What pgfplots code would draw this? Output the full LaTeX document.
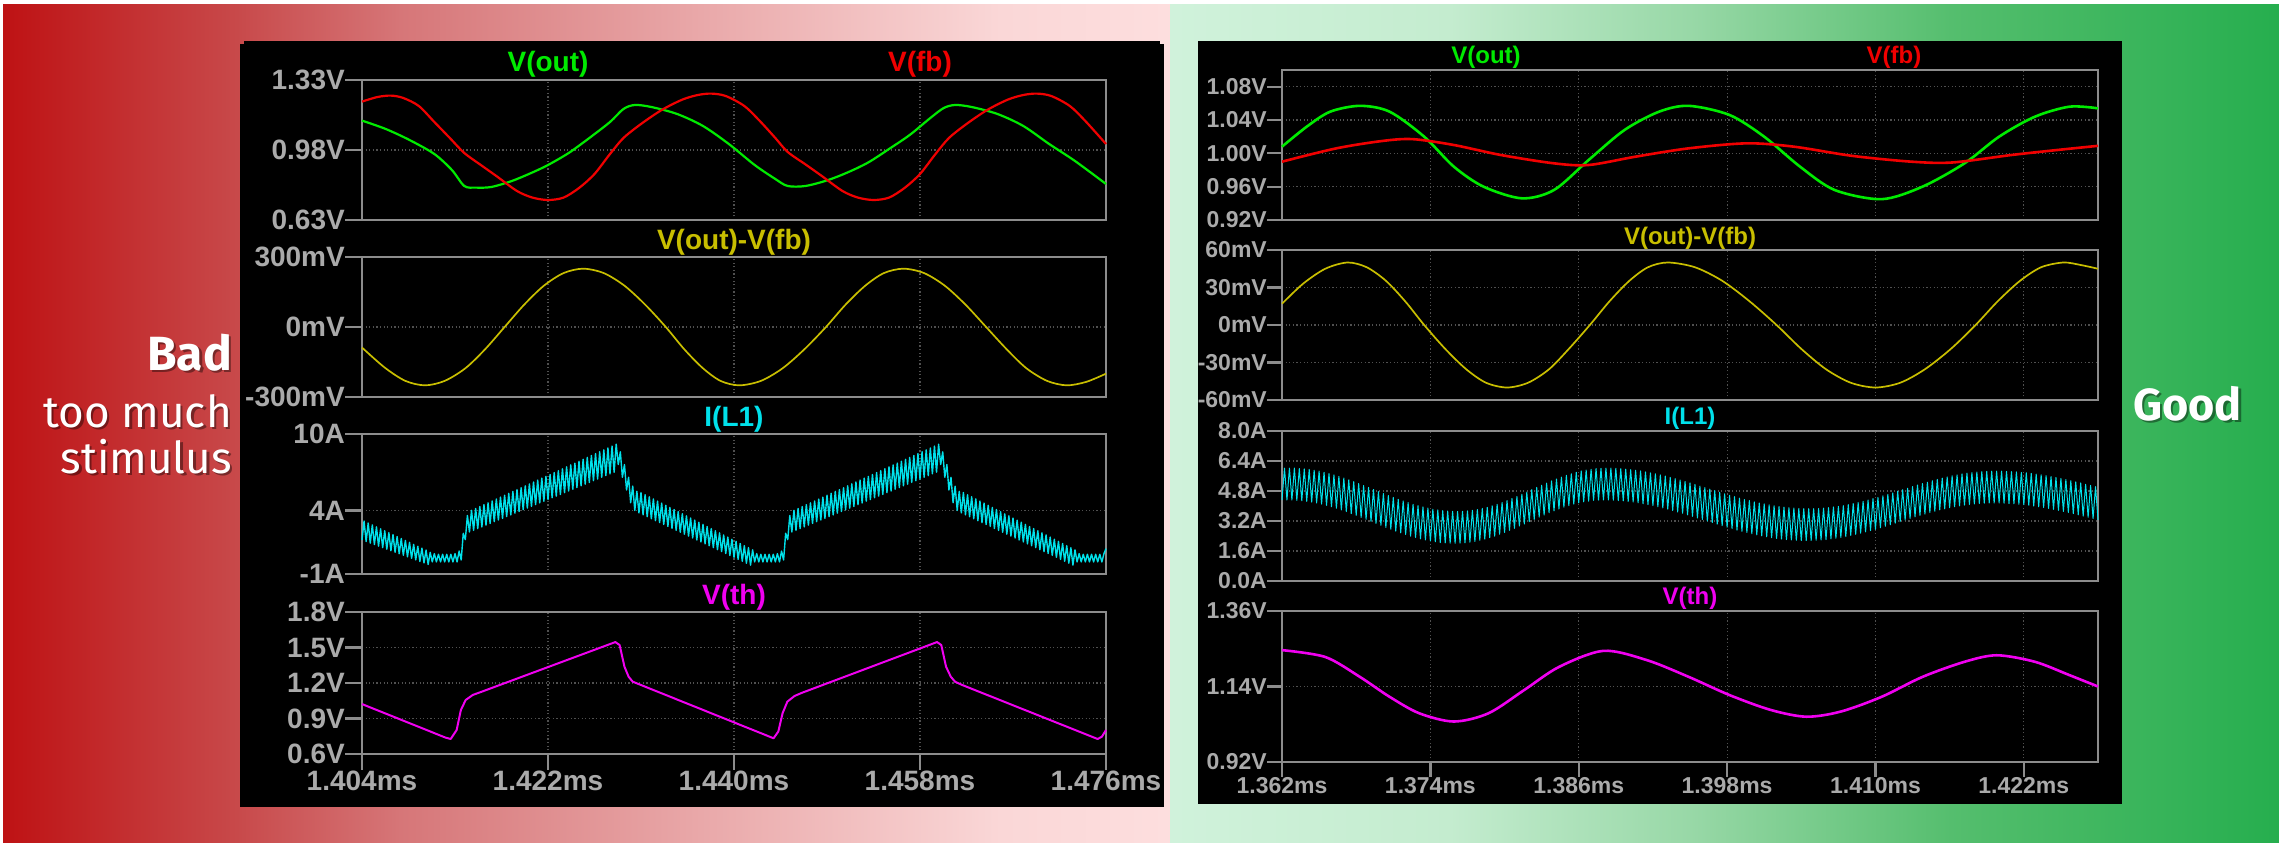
\documentclass[border=0pt]{standalone}
\usepackage{fontspec}
\setmainfont{Liberation Sans}
\newfontfamily\notefont{Fira Sans}
\usepackage{pgfplots}
\pgfplotsset{compat=1.18}

% trace and frame colours
\definecolor{ticktext}{RGB}{170,170,170}
\definecolor{framegray}{RGB}{140,140,140}
\definecolor{gridgray}{RGB}{80,80,80}
\definecolor{vout}{RGB}{0,235,0}
\definecolor{vfb}{RGB}{240,0,0}
\definecolor{vdiff}{RGB}{200,190,0}
\definecolor{il}{RGB}{0,225,235}
\definecolor{vth}{RGB}{240,0,240}
% background gradient stops
\definecolor{ra}{RGB}{190,18,20}
\definecolor{rb}{RGB}{200,74,75}
\definecolor{rc}{RGB}{214,118,120}
\definecolor{rd}{RGB}{233,168,169}
\definecolor{re}{RGB}{250,215,215}
\definecolor{rf}{RGB}{253,222,222}
\definecolor{ga}{RGB}{208,242,219}
\definecolor{gb}{RGB}{196,236,207}
\definecolor{gc}{RGB}{150,215,165}
\definecolor{gd}{RGB}{85,190,110}
\definecolor{ge}{RGB}{38,174,78}

\newcommand\tickL{\fontsize{28}{28}\selectfont\bfseries}
\newcommand\tickR{\fontsize{23}{23}\selectfont\bfseries}
\newcommand\titleL{\fontsize{28}{28}\selectfont\bfseries}
\newcommand\titleR{\fontsize{24}{24}\selectfont\bfseries}

% outward tick marks, drawn as thin bars
\newcommand\ytk[3]{\fill[framegray] (#1pt,-#3pt+1.1pt) rectangle (#2pt,-#3pt-1.1pt);}
\newcommand\xtk[3]{\fill[framegray] (#1pt-1.1pt,-#2pt) rectangle (#1pt+1.1pt,-#3pt);}

\pgfplotsset{
  spice/.style={
    scale only axis,
    axis line style={draw=framegray, line width=2pt},
    tick style={draw=none},
    tick align=outside,
    ytick pos=left,
    xtick pos=bottom,
    grid=major,
    major grid style={draw=gridgray, line width=1.2pt, dash pattern=on 1.2pt off 2.4pt},
    clip=false,
    yticklabel style={anchor=east, inner sep=0pt, text=ticktext},
    xticklabel style={anchor=north, inner sep=0pt, text=ticktext},
    every axis plot/.append style={line join=round},
  },
  bad/.style={spice, width=744pt, xmin=1.404, xmax=1.476,
    xtick={1.404,1.422,1.440,1.458,1.476},
    major tick length=17pt, ticklabel style={font=\tickL}},
  good/.style={spice, width=816pt, xmin=1.362, xmax=1.428,
    xtick={1.362,1.374,1.386,1.398,1.410,1.422},
    major tick length=15pt, ticklabel style={font=\tickR}},
  upper/.style={xticklabels={}},
}

\begin{document}
\begin{tikzpicture}
\useasboundingbox (0,0) rectangle (2279pt,-843pt);

% backdrop: red half and green half
\fill[white] (0,0) rectangle (2279pt,-843pt);
\shade[left color=ra, right color=rb] (3pt,-5pt) rectangle (240.5pt,-843pt);
\shade[left color=rb, right color=rc] (240pt,-5pt) rectangle (400.5pt,-843pt);
\shade[left color=rc, right color=rd] (400pt,-5pt) rectangle (700.5pt,-843pt);
\shade[left color=rd, right color=re] (700pt,-5pt) rectangle (1000.5pt,-843pt);
\shade[left color=re, right color=rf] (1000pt,-5pt) rectangle (1170pt,-843pt);
\shade[left color=ga, right color=gb] (1170pt,-5pt) rectangle (1450.5pt,-843pt);
\shade[left color=gb, right color=gc] (1450pt,-5pt) rectangle (1700.5pt,-843pt);
\shade[left color=gc, right color=gd] (1700pt,-5pt) rectangle (1950.5pt,-843pt);
\shade[left color=gd, right color=ge] (1950pt,-5pt) rectangle (2279pt,-843pt);

% scope windows
\fill[black] (244pt,-41pt) rectangle (1160pt,-807pt);
\fill[black] (240pt,-44pt) rectangle (1164pt,-807pt);
\fill[black] (1198pt,-41pt) rectangle (2122pt,-804pt);

% tick marks of both windows
\ytk{345}{362}{80}\ytk{345}{362}{150}\ytk{345}{362}{220}
\ytk{345}{362}{257}\ytk{345}{362}{327}\ytk{345}{362}{397}
\ytk{345}{362}{434}\ytk{345}{362}{510.4}\ytk{345}{362}{574}
\ytk{345}{362}{612}\ytk{345}{362}{647.5}\ytk{345}{362}{683}\ytk{345}{362}{718.5}\ytk{345}{362}{754}
\xtk{362}{754}{770}\xtk{548}{754}{770}\xtk{734}{754}{770}\xtk{920}{754}{770}\xtk{1106}{754}{770}
\ytk{1267}{1282}{86.7}\ytk{1267}{1282}{120}\ytk{1267}{1282}{153.3}\ytk{1267}{1282}{186.7}\ytk{1267}{1282}{220}
\ytk{1267}{1282}{250}\ytk{1267}{1282}{287.5}\ytk{1267}{1282}{325}\ytk{1267}{1282}{362.5}\ytk{1267}{1282}{400}
\ytk{1267}{1282}{431}\ytk{1267}{1282}{461}\ytk{1267}{1282}{491}\ytk{1267}{1282}{521}\ytk{1267}{1282}{551}\ytk{1267}{1282}{581}
\ytk{1267}{1282}{611}\ytk{1267}{1282}{686.5}\ytk{1267}{1282}{762}
\xtk{1282}{762}{777}\xtk{1430.4}{762}{777}\xtk{1578.7}{762}{777}\xtk{1727.1}{762}{777}\xtk{1875.5}{762}{777}\xtk{2023.8}{762}{777}

% side captions
\begin{scope}[every node/.style={inner sep=0pt}]
\node[anchor=base east, font=\notefont\bfseries\fontsize{48}{48}\selectfont, text=black, opacity=0.4] at (234.5pt,-372.5pt) {Bad};
\node[anchor=base east, font=\notefont\bfseries\fontsize{48}{48}\selectfont, text=white] at (232pt,-370pt) {Bad};
\node[anchor=base east, font=\notefont\fontsize{44}{44}\selectfont, text=black, opacity=0.4] at (234.5pt,-429.5pt) {too much};
\node[anchor=base east, font=\notefont\fontsize{44}{44}\selectfont, text=white] at (232pt,-427pt) {too much};
\node[anchor=base east, font=\notefont\fontsize{44}{44}\selectfont, text=black, opacity=0.4] at (234.5pt,-475.5pt) {stimulus};
\node[anchor=base east, font=\notefont\fontsize{44}{44}\selectfont, text=white] at (232pt,-473pt) {stimulus};
\node[anchor=base west, font=\notefont\bfseries\fontsize{45}{45}\selectfont, text=black, opacity=0.4] at (2135.5pt,-422.5pt) {Good};
\node[anchor=base west, font=\notefont\bfseries\fontsize{45}{45}\selectfont, text=white] at (2133pt,-420pt) {Good};
\end{scope}

% ---------------- left window ----------------
\begin{axis}[bad, upper, at={(362pt,-220pt)}, anchor=south west, height=140pt,
  ymin=0.63, ymax=1.33, ytick={0.63,0.98,1.33}, yticklabels={0.63V,0.98V,1.33V}]
\addplot[vout, line width=2.2pt, smooth] coordinates {
(1.4040,1.127)(1.4063,1.085)(1.4086,1.030)(1.4110,0.960)(1.4127,0.880)(1.4139,0.800)
(1.4150,0.792)(1.4165,0.795)(1.4185,0.825)(1.4205,0.868)(1.4220,0.905)(1.4240,0.965)
(1.4260,1.040)(1.4280,1.120)(1.4293,1.185)(1.4304,1.205)(1.4320,1.195)(1.4345,1.160)
(1.4370,1.100)(1.4395,1.010)(1.4420,0.905)(1.4440,0.835)(1.4452,0.800)(1.4469,0.800)
(1.4490,0.828)(1.4510,0.868)(1.4530,0.918)(1.4550,0.985)(1.4570,1.055)(1.4590,1.140)
(1.4603,1.190)(1.4614,1.205)(1.4630,1.195)(1.4655,1.160)(1.4680,1.100)(1.4705,1.010)
(1.4730,0.925)(1.4760,0.810)};
\addplot[vfb, line width=2.2pt, smooth] coordinates {
(1.4040,1.222)(1.4055,1.245)(1.4068,1.252)(1.4080,1.240)(1.4095,1.200)(1.4110,1.120)
(1.4125,1.040)(1.4139,0.965)(1.4155,0.905)(1.4170,0.850)(1.4190,0.775)(1.4205,0.742)
(1.4220,0.730)(1.4235,0.742)(1.4250,0.790)(1.4265,0.860)(1.4280,0.960)(1.4293,1.040)
(1.4310,1.110)(1.4330,1.180)(1.4350,1.232)(1.4365,1.255)(1.4378,1.262)(1.4392,1.250)
(1.4410,1.200)(1.4425,1.125)(1.4440,1.040)(1.4452,0.970)(1.4470,0.905)(1.4485,0.850)
(1.4505,0.775)(1.4520,0.742)(1.4535,0.730)(1.4550,0.742)(1.4565,0.790)(1.4580,0.860)
(1.4595,0.960)(1.4608,1.040)(1.4625,1.110)(1.4645,1.180)(1.4665,1.232)(1.4680,1.255)
(1.4693,1.262)(1.4707,1.250)(1.4725,1.200)(1.4740,1.125)(1.4760,1.010)};
\node[font=\titleL, text=vout] at (rel axis cs:0.25,1) [yshift=16pt] {V(out)};
\node[font=\titleL, text=vfb] at (rel axis cs:0.75,1) [yshift=16pt] {V(fb)};
\end{axis}

\begin{axis}[bad, upper, at={(362pt,-397pt)}, anchor=south west, height=140pt,
  ymin=-300, ymax=300, ytick={-300,0,300}, yticklabels={-300mV,0mV,300mV}]
\addplot[vdiff, line width=1.7pt, smooth] coordinates {
(1.4040,-88)(1.4062,-174)(1.4082,-231)(1.4101,-250)
(1.4120,-231)(1.4140,-177)(1.4159,-96)(1.4178,0)
(1.4197,96)(1.4216,177)(1.4235,231)(1.4254,250)
(1.4274,231)(1.4294,177)(1.4314,96)(1.4334,0)
(1.4352,-96)(1.4370,-177)(1.4387,-231)(1.4405,-250)
(1.4426,-231)(1.4447,-177)(1.4468,-96)(1.4489,0)
(1.4508,96)(1.4527,177)(1.4545,231)(1.4564,250)
(1.4584,231)(1.4604,177)(1.4624,96)(1.4644,0)
(1.4664,-96)(1.4683,-177)(1.4703,-231)(1.4722,-250)
(1.4741,-235)(1.4760,-200)};
\node[font=\titleL, text=vdiff] at (rel axis cs:0.5,1) [yshift=15pt] {V(out)-V(fb)};
\end{axis}

\begin{axis}[bad, upper, at={(362pt,-574pt)}, anchor=south west, height=140pt,
  ymin=-1, ymax=10, ytick={-1,4,10}, yticklabels={-1A,4A,10A}]
\addplot[il, line width=1.4pt] coordinates {
(1.4040,1.67)(1.4042,3.16)(1.4044,1.55)(1.4046,3.01)(1.4048,1.43)(1.4050,2.86)(1.4052,1.31)(1.4054,2.71)
(1.4056,1.19)(1.4058,2.55)(1.4060,1.07)(1.4062,2.40)(1.4064,0.95)(1.4066,2.25)(1.4068,0.83)(1.4070,2.10)
(1.4072,0.71)(1.4074,1.94)(1.4076,0.59)(1.4078,1.79)(1.4080,0.47)(1.4082,1.64)(1.4084,0.35)(1.4086,1.49)
(1.4088,0.23)(1.4090,1.33)(1.4092,0.11)(1.4094,1.18)(1.4096,-0.01)(1.4098,1.03)(1.4100,-0.13)(1.4102,0.88)
(1.4104,-0.25)
(1.4106,0.70)(1.4108,-0.05)(1.4110,0.60)(1.4112,-0.05)(1.4114,0.55)(1.4116,-0.05)(1.4118,0.55)(1.4120,-0.05)
(1.4122,0.55)(1.4124,-0.05)(1.4126,0.55)(1.4128,-0.05)(1.4130,0.60)(1.4132,-0.05)(1.4134,0.80)(1.4136,0.10)
(1.4138,2.20)(1.4140,1.70)(1.4142,3.60)
(1.4144,2.30)(1.4146,4.00)(1.4148,2.43)(1.4150,4.15)(1.4152,2.57)(1.4154,4.30)(1.4156,2.70)(1.4158,4.45)
(1.4160,2.84)(1.4162,4.59)(1.4164,2.97)(1.4166,4.74)(1.4168,3.11)(1.4170,4.89)(1.4172,3.24)(1.4174,5.04)
(1.4176,3.37)(1.4178,5.19)(1.4180,3.51)(1.4182,5.34)(1.4184,3.64)(1.4186,5.49)(1.4188,3.78)(1.4190,5.63)
(1.4192,3.91)(1.4194,5.78)(1.4196,4.05)(1.4198,5.93)(1.4200,4.18)(1.4202,6.08)(1.4204,4.31)(1.4206,6.23)
(1.4208,4.45)(1.4210,6.38)(1.4212,4.58)(1.4214,6.53)(1.4216,4.72)(1.4218,6.67)(1.4220,4.85)(1.4222,6.82)
(1.4224,4.99)(1.4226,6.97)(1.4228,5.12)(1.4230,7.12)(1.4232,5.25)(1.4234,7.27)(1.4236,5.39)(1.4238,7.42)
(1.4240,5.52)(1.4242,7.57)(1.4244,5.66)(1.4246,7.71)(1.4248,5.79)(1.4250,7.86)(1.4252,5.93)(1.4254,8.01)
(1.4256,6.06)(1.4258,8.16)(1.4260,6.19)(1.4262,8.31)(1.4264,6.33)(1.4266,8.46)(1.4268,6.46)(1.4270,8.61)
(1.4272,6.60)(1.4274,8.75)(1.4276,6.73)(1.4278,8.90)(1.4280,6.87)(1.4282,9.05)(1.4284,7.00)(1.4286,9.20)
(1.4288,7.60)(1.4290,8.60)(1.4292,6.60)(1.4294,7.60)(1.4296,5.60)(1.4298,6.60)(1.4300,4.60)(1.4302,5.90)
(1.4304,4.00)(1.4306,5.50)
(1.4308,3.80)(1.4310,5.40)(1.4312,3.65)(1.4314,5.23)(1.4316,3.50)(1.4318,5.07)(1.4320,3.34)(1.4322,4.90)
(1.4324,3.19)(1.4326,4.73)(1.4328,3.04)(1.4330,4.57)(1.4332,2.89)(1.4334,4.40)(1.4336,2.74)(1.4338,4.23)
(1.4340,2.58)(1.4342,4.07)(1.4344,2.43)(1.4346,3.90)(1.4348,2.28)(1.4350,3.73)(1.4352,2.13)(1.4354,3.57)
(1.4356,1.98)(1.4358,3.40)(1.4360,1.83)(1.4362,3.23)(1.4364,1.67)(1.4366,3.07)(1.4368,1.52)(1.4370,2.90)
(1.4372,1.37)(1.4374,2.73)(1.4376,1.22)(1.4378,2.57)(1.4380,1.07)(1.4382,2.40)(1.4384,0.91)(1.4386,2.23)
(1.4388,0.76)(1.4390,2.07)(1.4392,0.61)(1.4394,1.90)(1.4396,0.46)(1.4398,1.73)(1.4400,0.31)(1.4402,1.57)
(1.4404,0.15)(1.4406,1.40)(1.4408,0.00)(1.4410,1.23)(1.4412,-0.15)(1.4414,1.07)(1.4416,-0.30)(1.4418,0.90)
(1.4420,-0.05)(1.4422,0.60)(1.4424,-0.05)(1.4426,0.55)(1.4428,-0.05)(1.4430,0.55)(1.4432,-0.05)(1.4434,0.55)
(1.4436,-0.05)(1.4438,0.55)(1.4440,-0.05)(1.4442,0.60)(1.4444,-0.05)(1.4446,0.80)(1.4448,0.10)(1.4450,2.20)
(1.4452,1.70)(1.4454,3.60)
(1.4456,2.30)(1.4458,4.00)(1.4460,2.43)(1.4462,4.15)(1.4464,2.57)(1.4466,4.30)(1.4468,2.70)(1.4470,4.45)
(1.4472,2.84)(1.4474,4.59)(1.4476,2.97)(1.4478,4.74)(1.4480,3.11)(1.4482,4.89)(1.4484,3.24)(1.4486,5.04)
(1.4488,3.37)(1.4490,5.19)(1.4492,3.51)(1.4494,5.34)(1.4496,3.64)(1.4498,5.49)(1.4500,3.78)(1.4502,5.63)
(1.4504,3.91)(1.4506,5.78)(1.4508,4.05)(1.4510,5.93)(1.4512,4.18)(1.4514,6.08)(1.4516,4.31)(1.4518,6.23)
(1.4520,4.45)(1.4522,6.38)(1.4524,4.58)(1.4526,6.53)(1.4528,4.72)(1.4530,6.67)(1.4532,4.85)(1.4534,6.82)
(1.4536,4.99)(1.4538,6.97)(1.4540,5.12)(1.4542,7.12)(1.4544,5.25)(1.4546,7.27)(1.4548,5.39)(1.4550,7.42)
(1.4552,5.52)(1.4554,7.57)(1.4556,5.66)(1.4558,7.71)(1.4560,5.79)(1.4562,7.86)(1.4564,5.93)(1.4566,8.01)
(1.4568,6.06)(1.4570,8.16)(1.4572,6.19)(1.4574,8.31)(1.4576,6.33)(1.4578,8.46)(1.4580,6.46)(1.4582,8.61)
(1.4584,6.60)(1.4586,8.75)(1.4588,6.73)(1.4590,8.90)(1.4592,6.87)(1.4594,9.05)(1.4596,7.00)(1.4598,9.20)
(1.4600,7.60)(1.4602,8.60)(1.4604,6.60)(1.4606,7.60)(1.4608,5.60)(1.4610,6.60)(1.4612,4.60)(1.4614,5.90)
(1.4616,4.00)(1.4618,5.50)
(1.4620,3.80)(1.4622,5.40)(1.4624,3.65)(1.4626,5.23)(1.4628,3.50)(1.4630,5.07)(1.4632,3.34)(1.4634,4.90)
(1.4636,3.19)(1.4638,4.73)(1.4640,3.04)(1.4642,4.57)(1.4644,2.89)(1.4646,4.40)(1.4648,2.74)(1.4650,4.23)
(1.4652,2.58)(1.4654,4.07)(1.4656,2.43)(1.4658,3.90)(1.4660,2.28)(1.4662,3.73)(1.4664,2.13)(1.4666,3.57)
(1.4668,1.98)(1.4670,3.40)(1.4672,1.83)(1.4674,3.23)(1.4676,1.67)(1.4678,3.07)(1.4680,1.52)(1.4682,2.90)
(1.4684,1.37)(1.4686,2.73)(1.4688,1.22)(1.4690,2.57)(1.4692,1.07)(1.4694,2.40)(1.4696,0.91)(1.4698,2.23)
(1.4700,0.76)(1.4702,2.07)(1.4704,0.61)(1.4706,1.90)(1.4708,0.46)(1.4710,1.73)(1.4712,0.31)(1.4714,1.57)
(1.4716,0.15)(1.4718,1.40)(1.4720,0.00)(1.4722,1.23)(1.4724,-0.15)(1.4726,1.07)(1.4728,-0.30)(1.4730,0.90)
(1.4732,-0.05)(1.4734,0.60)(1.4736,-0.05)(1.4738,0.55)(1.4740,-0.05)(1.4742,0.55)(1.4744,-0.05)(1.4746,0.55)
(1.4748,-0.05)(1.4750,0.55)(1.4752,-0.05)(1.4754,0.55)(1.4756,-0.05)(1.4758,0.60)(1.4760,1.00)};
\node[font=\titleL, text=il] at (rel axis cs:0.5,1) [yshift=15pt] {I(L1)};
\end{axis}

\begin{axis}[bad, at={(362pt,-754pt)}, anchor=south west, height=142pt,
  ymin=0.6, ymax=1.8, ytick={0.6,0.9,1.2,1.5,1.8}, yticklabels={0.6V,0.9V,1.2V,1.5V,1.8V},
  xticklabels={1.404ms,1.422ms,1.440ms,1.458ms,1.476ms}]
\addplot[vth, line width=2pt] coordinates {
(1.4040,1.022)(1.4121,0.738)(1.41258,0.727)(1.41316,0.803)(1.41357,0.972)(1.41403,1.056)
(1.41472,1.099)(1.4156,1.127)(1.42852,1.546)(1.42893,1.521)(1.4294,1.338)(1.4298,1.253)
(1.4302,1.211)(1.4310,1.183)(1.44383,0.733)(1.44429,0.790)(1.4447,0.944)(1.44516,1.042)
(1.44585,1.090)(1.4466,1.118)(1.45965,1.546)(1.46006,1.521)(1.46052,1.338)(1.46098,1.253)
(1.46139,1.211)(1.46209,1.183)(1.47519,0.727)(1.4756,0.746)(1.4760,0.803)};
\node[font=\titleL, text=vth] at (rel axis cs:0.5,1) [yshift=15pt] {V(th)};
\end{axis}

% ---------------- right window ----------------
\begin{axis}[good, upper, at={(1282pt,-220pt)}, anchor=south west, height=150pt,
  ymin=0.92, ymax=1.10, ytick={0.92,0.96,1.00,1.04,1.08}, yticklabels={0.92V,0.96V,1.00V,1.04V,1.08V}]
\addplot[vout, line width=2.6pt, smooth] coordinates {
(1.3620,1.008)(1.3640,1.032)(1.3659,1.050)(1.3683,1.057)(1.3707,1.050)(1.3735,1.020)
(1.3759,0.984)(1.3783,0.960)(1.3814,0.946)(1.3840,0.956)(1.3868,0.992)(1.3897,1.028)
(1.3925,1.050)(1.3949,1.057)(1.3982,1.046)(1.4010,1.020)(1.4039,0.984)(1.4067,0.956)
(1.4105,0.945)(1.4138,0.960)(1.4172,0.988)(1.4200,1.020)(1.4229,1.044)(1.4257,1.056)
(1.4280,1.054)};
\addplot[vfb, line width=2.6pt, smooth] coordinates {
(1.3620,0.990)(1.3664,1.006)(1.3702,1.015)(1.3726,1.017)(1.3759,1.010)(1.3797,0.998)
(1.3840,0.988)(1.3868,0.986)(1.3906,0.996)(1.3949,1.006)(1.3996,1.012)(1.4034,1.008)
(1.4081,0.997)(1.4129,0.990)(1.4162,0.989)(1.4210,0.998)(1.4247,1.004)(1.4280,1.009)};
\node[font=\titleR, text=vout] at (rel axis cs:0.25,1) [yshift=13pt] {V(out)};
\node[font=\titleR, text=vfb] at (rel axis cs:0.75,1) [yshift=13pt] {V(fb)};
\end{axis}

\begin{axis}[good, upper, at={(1282pt,-400pt)}, anchor=south west, height=150pt,
  ymin=-60, ymax=60, ytick={-60,-30,0,30,60}, yticklabels={-60mV,-30mV,0mV,30mV,60mV}]
\addplot[vdiff, line width=1.7pt, smooth] coordinates {
(1.3620,17)(1.3637,33)(1.3655,45)(1.3673,50)
(1.36885,46.2)(1.3704,35.4)(1.37195,19.1)(1.3735,0)
(1.3752,-19.1)(1.3769,-35.4)(1.3785,-46.2)(1.3802,-50)
(1.3819,-46.2)(1.3836,-35.4)(1.3852,-19.1)(1.3869,0)
(1.3885,19.1)(1.3901,35.4)(1.3916,46.2)(1.3932,50)
(1.3954,46.2)(1.3976,35.4)(1.3998,19.1)(1.4020,0)
(1.4040,-19.1)(1.4060,-35.4)(1.4080,-46.2)(1.4100,-50)
(1.4120,-46.2)(1.4140,-35.4)(1.4161,-19.1)(1.4181,0)
(1.4199,19.1)(1.4217,35.4)(1.4234,46.2)(1.4252,50)
(1.4266,48)(1.4280,45)};
\node[font=\titleR, text=vdiff] at (rel axis cs:0.5,1) [yshift=12pt] {V(out)-V(fb)};
\end{axis}

\begin{axis}[good, upper, at={(1282pt,-581pt)}, anchor=south west, height=150pt,
  ymin=0, ymax=8, ytick={0,1.6,3.2,4.8,6.4,8}, yticklabels={0.0A,1.6A,3.2A,4.8A,6.4A,8.0A}]
\addplot[il, line width=1.0pt] coordinates {
(1.3620,4.32)(1.3622,6.02)(1.3624,4.32)(1.3626,6.02)(1.3628,4.32)(1.3630,6.02)(1.3632,4.30)(1.3634,6.00)
(1.3636,4.28)(1.3638,5.98)(1.3640,4.25)(1.3642,5.95)(1.3644,4.21)(1.3646,5.91)(1.3648,4.16)(1.3650,5.86)
(1.3652,4.10)(1.3654,5.80)(1.3656,4.03)(1.3658,5.73)(1.3660,3.96)(1.3662,5.66)(1.3664,3.88)(1.3666,5.58)
(1.3668,3.79)(1.3670,5.49)(1.3672,3.70)(1.3674,5.40)(1.3676,3.60)(1.3678,5.30)(1.3680,3.50)(1.3682,5.20)
(1.3684,3.39)(1.3686,5.09)(1.3688,3.29)(1.3690,4.99)(1.3692,3.18)(1.3694,4.88)(1.3696,3.07)(1.3698,4.77)
(1.3700,2.97)(1.3702,4.67)(1.3704,2.86)(1.3706,4.56)(1.3708,2.76)(1.3710,4.46)(1.3712,2.66)(1.3714,4.36)
(1.3716,2.57)(1.3718,4.27)(1.3720,2.48)(1.3722,4.18)(1.3724,2.39)(1.3726,4.09)(1.3728,2.32)(1.3730,4.02)
(1.3732,2.25)(1.3734,3.95)(1.3736,2.19)(1.3738,3.89)(1.3740,2.13)(1.3742,3.83)(1.3744,2.09)(1.3746,3.79)
(1.3748,2.05)(1.3750,3.75)(1.3752,2.03)(1.3754,3.73)(1.3756,2.02)(1.3758,3.72)(1.3760,2.01)(1.3762,3.71)
(1.3764,2.02)(1.3766,3.72)(1.3768,2.04)(1.3770,3.74)(1.3772,2.07)(1.3774,3.77)(1.3776,2.11)(1.3778,3.81)
(1.3780,2.17)(1.3782,3.87)(1.3784,2.23)(1.3786,3.93)(1.3788,2.31)(1.3790,4.01)(1.3792,2.39)(1.3794,4.09)
(1.3796,2.49)(1.3798,4.19)(1.3800,2.59)(1.3802,4.29)(1.3804,2.70)(1.3806,4.40)(1.3808,2.81)(1.3810,4.51)
(1.3812,2.93)(1.3814,4.63)(1.3816,3.04)(1.3818,4.74)(1.3820,3.17)(1.3822,4.87)(1.3824,3.29)(1.3826,4.99)
(1.3828,3.41)(1.3830,5.11)(1.3832,3.52)(1.3834,5.22)(1.3836,3.64)(1.3838,5.34)(1.3840,3.74)(1.3842,5.44)
(1.3844,3.84)(1.3846,5.54)(1.3848,3.94)(1.3850,5.64)(1.3852,4.02)(1.3854,5.72)(1.3856,4.10)(1.3858,5.80)
(1.3860,4.17)(1.3862,5.87)(1.3864,4.22)(1.3866,5.92)(1.3868,4.26)(1.3870,5.96)(1.3872,4.30)(1.3874,6.00)
(1.3876,4.31)(1.3878,6.01)(1.3880,4.32)(1.3882,6.02)(1.3884,4.32)(1.3886,6.02)(1.3888,4.31)(1.3890,6.01)
(1.3892,4.29)(1.3894,5.99)(1.3896,4.27)(1.3898,5.97)(1.3900,4.24)(1.3902,5.94)(1.3904,4.21)(1.3906,5.91)
(1.3908,4.17)(1.3910,5.87)(1.3912,4.12)(1.3914,5.82)(1.3916,4.07)(1.3918,5.77)(1.3920,4.02)(1.3922,5.72)
(1.3924,3.96)(1.3926,5.66)(1.3928,3.90)(1.3930,5.60)(1.3932,3.83)(1.3934,5.53)(1.3936,3.76)(1.3938,5.46)
(1.3940,3.68)(1.3942,5.38)(1.3944,3.61)(1.3946,5.31)(1.3948,3.53)(1.3950,5.23)(1.3952,3.45)(1.3954,5.15)
(1.3956,3.36)(1.3958,5.06)(1.3960,3.28)(1.3962,4.98)(1.3964,3.20)(1.3966,4.90)(1.3968,3.12)(1.3970,4.82)
(1.3972,3.03)(1.3974,4.73)(1.3976,2.95)(1.3978,4.65)(1.3980,2.87)(1.3982,4.57)(1.3984,2.80)(1.3986,4.50)
(1.3988,2.72)(1.3990,4.42)(1.3992,2.65)(1.3994,4.35)(1.3996,2.59)(1.3998,4.29)(1.4000,2.52)(1.4002,4.22)
(1.4004,2.46)(1.4006,4.16)(1.4008,2.41)(1.4010,4.11)(1.4012,2.36)(1.4014,4.06)(1.4016,2.31)(1.4018,4.01)
(1.4020,2.27)(1.4022,3.97)(1.4024,2.24)(1.4026,3.94)(1.4028,2.21)(1.4030,3.91)(1.4032,2.19)(1.4034,3.89)
(1.4036,2.17)(1.4038,3.87)(1.4040,2.16)(1.4042,3.86)(1.4044,2.16)(1.4046,3.86)(1.4048,2.16)(1.4050,3.86)
(1.4052,2.17)(1.4054,3.87)(1.4056,2.19)(1.4058,3.89)(1.4060,2.21)(1.4062,3.91)(1.4064,2.25)(1.4066,3.95)
(1.4068,2.28)(1.4070,3.98)(1.4072,2.32)(1.4074,4.02)(1.4076,2.37)(1.4078,4.07)(1.4080,2.43)(1.4082,4.13)
(1.4084,2.49)(1.4086,4.19)(1.4088,2.55)(1.4090,4.25)(1.4092,2.62)(1.4094,4.32)(1.4096,2.69)(1.4098,4.39)
(1.4100,2.76)(1.4102,4.46)(1.4104,2.84)(1.4106,4.54)(1.4108,2.92)(1.4110,4.62)(1.4112,3.00)(1.4114,4.70)
(1.4116,3.09)(1.4118,4.79)(1.4120,3.17)(1.4122,4.87)(1.4124,3.25)(1.4126,4.95)(1.4128,3.34)(1.4130,5.04)
(1.4132,3.42)(1.4134,5.12)(1.4136,3.50)(1.4138,5.20)(1.4140,3.57)(1.4142,5.27)(1.4144,3.65)(1.4146,5.35)
(1.4148,3.72)(1.4150,5.42)(1.4152,3.79)(1.4154,5.49)(1.4156,3.85)(1.4158,5.55)(1.4160,3.91)(1.4162,5.61)
(1.4164,3.96)(1.4166,5.66)(1.4168,4.01)(1.4170,5.71)(1.4172,4.05)(1.4174,5.75)(1.4176,4.08)(1.4178,5.78)
(1.4180,4.11)(1.4182,5.81)(1.4184,4.13)(1.4186,5.83)(1.4188,4.15)(1.4190,5.85)(1.4192,4.16)(1.4194,5.86)
(1.4196,4.16)(1.4198,5.86)(1.4200,4.16)(1.4202,5.86)(1.4204,4.15)(1.4206,5.85)(1.4208,4.13)(1.4210,5.83)
(1.4212,4.12)(1.4214,5.82)(1.4216,4.09)(1.4218,5.79)(1.4220,4.07)(1.4222,5.77)(1.4224,4.04)(1.4226,5.74)
(1.4228,4.00)(1.4230,5.70)(1.4232,3.96)(1.4234,5.66)(1.4236,3.92)(1.4238,5.62)(1.4240,3.87)(1.4242,5.57)
(1.4244,3.82)(1.4246,5.52)(1.4248,3.77)(1.4250,5.47)(1.4252,3.71)(1.4254,5.41)(1.4256,3.65)(1.4258,5.35)
(1.4260,3.59)(1.4262,5.29)(1.4264,3.53)(1.4266,5.23)(1.4268,3.46)(1.4270,5.16)(1.4272,3.40)(1.4274,5.10)
(1.4276,3.33)(1.4278,5.03)(1.4280,3.26)};
\node[font=\titleR, text=il] at (rel axis cs:0.5,1) [yshift=13pt] {I(L1)};
\end{axis}

\begin{axis}[good, at={(1282pt,-762pt)}, anchor=south west, height=151pt,
  ymin=0.92, ymax=1.36, ytick={0.92,1.14,1.36}, yticklabels={0.92V,1.14V,1.36V},
  xticklabels={1.362ms,1.374ms,1.386ms,1.398ms,1.410ms,1.422ms}]
\addplot[vth, line width=2.6pt, smooth] coordinates {
(1.3620,1.246)(1.3655,1.226)(1.3683,1.168)(1.3707,1.110)(1.3731,1.062)(1.3759,1.038)
(1.3787,1.062)(1.3816,1.130)(1.3844,1.197)(1.3880,1.244)(1.3915,1.217)(1.3949,1.168)
(1.3982,1.115)(1.4015,1.072)(1.4044,1.052)(1.4072,1.067)(1.4105,1.110)(1.4138,1.168)
(1.4172,1.212)(1.4198,1.231)(1.4229,1.212)(1.4257,1.173)(1.4280,1.140)};
\node[font=\titleR, text=vth] at (rel axis cs:0.5,1) [yshift=12.5pt] {V(th)};
\end{axis}
\end{tikzpicture}
\end{document}
